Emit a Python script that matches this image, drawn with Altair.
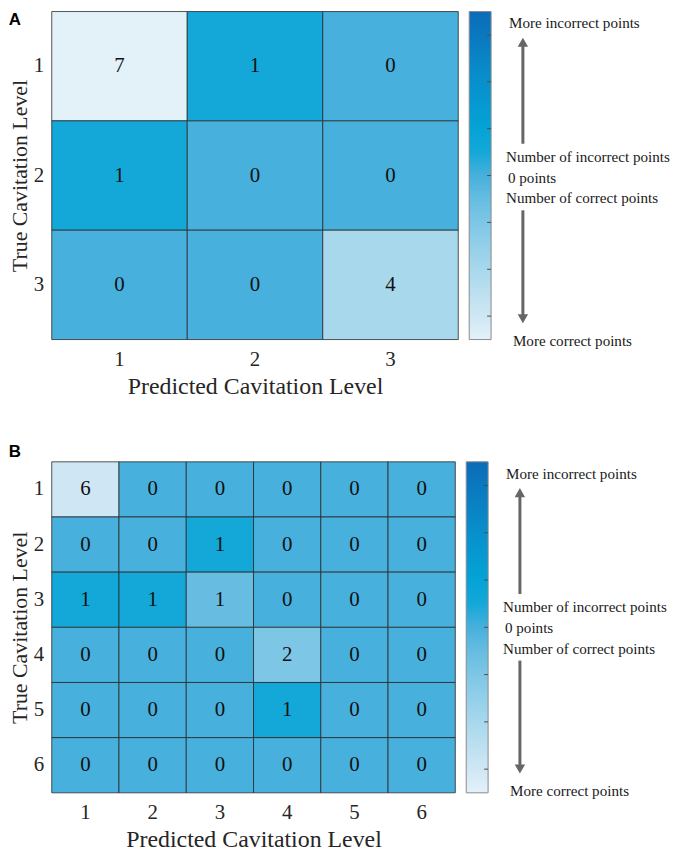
import altair as alt
import pandas as pd

# ---------------- data ----------------
levels_A = ["1", "2", "3"]
counts_A = [
    [7, 1, 0],
    [1, 0, 0],
    [0, 0, 4],
]
levels_B = ["1", "2", "3", "4", "5", "6"]
counts_B = [
    [6, 0, 0, 0, 0, 0],
    [0, 0, 1, 0, 0, 0],
    [1, 1, 1, 0, 0, 0],
    [0, 0, 0, 2, 0, 0],
    [0, 0, 0, 1, 0, 0],
    [0, 0, 0, 0, 0, 0],
]
colorbar_ticks = [-6, -4, -2, 0, 2, 4, 6]
color_domain = [-7, -6, -4, -2, -1, 0, 1, 2, 4, 7]
color_range = ["#e3f1f9", "#cfe7f4", "#a8d8ec", "#7ec6e6", "#66bde1",
               "#47b0dc", "#14a8d8", "#04a3d6", "#0890cc", "#0b6cb8"]

ann_texts = ["More incorrect points", "Number of incorrect points", "0 points",
             "Number of correct points", "More correct points"]
ann_dx = [51, 48, 50, 48, 55]
ann_y = [12, 146, 167, 188, 331]

SERIF = "Liberation Serif"
SANS = "Liberation Sans"
TXT = "#262626"

lo, hi = color_domain[0], color_domain[-1]
cb_gradient = alt.Gradient(
    gradient="linear", x1=0, y1=1, x2=0, y2=0,
    stops=[alt.GradientStop(offset=(d - lo) / (hi - lo), color=c)
           for d, c in zip(color_domain, color_range)])


def panel(letter, letter_y, levels, counts, W, H):
    rows = []
    for i, t in enumerate(levels):
        for j, p in enumerate(levels):
            c = counts[i][j]
            rows.append({"true": t, "pred": p, "count": c,
                         "signed": -c if i == j else c})
    df = pd.DataFrame(rows)

    base = alt.Chart(df).encode(
        x=alt.X("pred:O", sort=levels, title="Predicted Cavitation Level",
                scale=alt.Scale(paddingInner=0, paddingOuter=0),
                axis=alt.Axis(labelAngle=0, labelFont=SERIF, labelFontSize=21,
                              labelColor=TXT, titleFont=SERIF, titleFontSize=24,
                              titleFontWeight="normal", titleColor=TXT,
                              ticks=False, domain=False, labelPadding=9,
                              titlePadding=5)),
        y=alt.Y("true:O", sort=levels, title="True Cavitation Level",
                scale=alt.Scale(paddingInner=0, paddingOuter=0),
                axis=alt.Axis(labelAngle=0, labelFont=SERIF, labelFontSize=21,
                              labelColor=TXT, titleFont=SERIF, titleFontSize=22,
                              titleFontWeight="normal", titleColor=TXT,
                              ticks=False, domain=False, labelPadding=8,
                              titlePadding=2)),
    )
    heat = base.mark_rect(stroke="#2a2a2a", strokeWidth=0.8).encode(
        color=alt.Color("signed:Q",
                        scale=alt.Scale(domain=color_domain, range=color_range,
                                        interpolate="rgb"),
                        legend=None))
    nums = base.mark_text(font=SERIF, fontSize=21, color="#111111").encode(
        text="count:Q")
    grid = alt.layer(heat, nums)

    one = pd.DataFrame({"k": [0]})
    # colour bar
    cbar = alt.Chart(one).mark_rect(color=cb_gradient, stroke="#8a8a8a",
                                    strokeWidth=1).encode(
        x=alt.value(W + 11), x2=alt.value(W + 33),
        y=alt.value(0), y2=alt.value(H))
    tick_df = pd.DataFrame({"v": colorbar_ticks})
    cb_ticks = alt.Chart(tick_df).mark_rule(color="#4d4d4d", strokeWidth=1).encode(
        y=alt.Y("v:Q", scale=alt.Scale(domain=[lo, hi]), axis=None),
        x=alt.value(W + 29), x2=alt.value(W + 33))

    extra = []
    for t, dx, yy in zip(ann_texts, ann_dx, ann_y):
        extra.append(alt.Chart(one).mark_text(
            align="left", baseline="middle", font=SERIF, fontSize=15.2,
            color="#1a1a1a").encode(x=alt.value(W + dx), y=alt.value(yy),
                                   text=alt.value(t)))
    ax = W + 65
    extra.append(alt.Chart(one).mark_rule(color="#666666", strokeWidth=3).encode(
        x=alt.value(ax), y=alt.value(32), y2=alt.value(133)))
    extra.append(alt.Chart(one).mark_point(shape="triangle-up", filled=True,
                                           size=110, color="#666666",
                                           opacity=1).encode(
        x=alt.value(ax), y=alt.value(31)))
    extra.append(alt.Chart(one).mark_rule(color="#666666", strokeWidth=3).encode(
        x=alt.value(ax), y=alt.value(200), y2=alt.value(308)))
    extra.append(alt.Chart(one).mark_point(shape="triangle-down", filled=True,
                                           size=110, color="#666666",
                                           opacity=1).encode(
        x=alt.value(ax), y=alt.value(309)))
    extra.append(alt.Chart(one).mark_text(
        font=SANS, fontWeight="bold", fontSize=17, color="#000000",
        align="center", baseline="middle").encode(
        x=alt.value(-37), y=alt.value(letter_y), text=alt.value(letter)))

    return alt.layer(grid, cbar, cb_ticks, *extra).resolve_scale(
        y="independent").properties(width=W, height=H)


pA = panel("A", 9, levels_A, counts_A, 409, 330)
pB = panel("B", -10, levels_B, counts_B, 406, 333)

chart = alt.vconcat(pA, pB, spacing=45).resolve_scale(color="independent").configure_view(
    strokeWidth=0).properties(padding={"left": 0, "top": 0, "right": 0, "bottom": 0},
                              background="white")

chart.save("out.html", embed_options={"renderer": "svg", "actions": False})
